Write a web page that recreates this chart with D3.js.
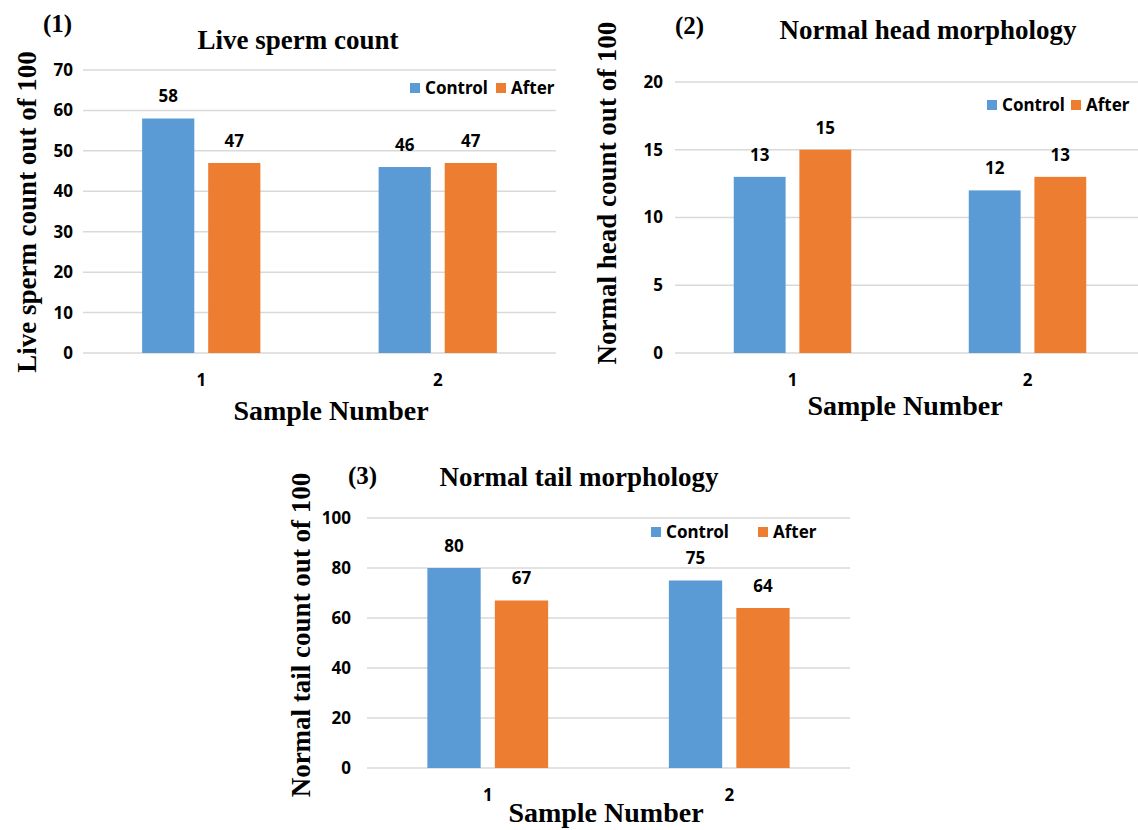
<!DOCTYPE html>
<html>
<head>
<meta charset="utf-8">
<script src="https://cdn.jsdelivr.net/npm/d3@7"></script>
<style>
  body { margin: 0; background: #fff; }
  svg { display: block; }
  .serif { font-family: "Liberation Serif", "Times New Roman", serif; font-weight: bold; fill: #000; }
  .sans { font-family: "Noto Sans", "Open Sans", sans-serif; font-weight: bold; fill: #000; }
</style>
</head>
<body>
<script>
const width = 1138
const height = 830

// data
const categories = ['1', '2']
const series = ['Control', 'After']
const colors = ['#5b9bd5', '#ed7d31']

const liveControl = [58, 46]
const liveAfter = [47, 47]
const headControl = [13, 12]
const headAfter = [15, 13]
const tailControl = [80, 75]
const tailAfter = [67, 64]

const liveTicks = [0, 10, 20, 30, 40, 50, 60, 70]
const headTicks = [0, 5, 10, 15, 20]
const tailTicks = [0, 20, 40, 60, 80, 100]

// layout of each panel (pixels only)
const panels = [
  {
    tag: '(1)', title: 'Live sperm count', yTitle: 'Live sperm count out of 100',
    values: [liveControl, liveAfter], ticks: liveTicks,
    left: 83, right: 556, gridEnd: 556, top: 70, bottom: 353,
    tickX: 73, catY: 380,
    titleX: 298, titleY: 40, tagX: 43, tagY: 23,
    yTitleX: 27, yTitleY: 212, xTitleX: 331, xTitleY: 410,
    legendX: [410, 496], legendY: 88
  },
  {
    tag: '(2)', title: 'Normal head morphology', yTitle: 'Normal head count out of 100',
    values: [headControl, headAfter], ticks: headTicks,
    left: 675, right: 1145, gridEnd: 1138, top: 82, bottom: 353,
    tickX: 663, catY: 380,
    titleX: 928, titleY: 30, tagX: 675, tagY: 25,
    yTitleX: 607, yTitleY: 193, xTitleX: 905, xTitleY: 405,
    legendX: [987, 1071], legendY: 105
  },
  {
    tag: '(3)', title: 'Normal tail morphology', yTitle: 'Normal tail count out of 100',
    values: [tailControl, tailAfter], ticks: tailTicks,
    left: 367, right: 850, gridEnd: 850, top: 518, bottom: 768,
    tickX: 351, catY: 795,
    titleX: 579, titleY: 477, tagX: 348, tagY: 475,
    yTitleX: 301, yTitleY: 635, xTitleX: 606, xTitleY: 812,
    legendX: [651, 758], legendY: 532
  }
]

const svg = d3.select('body').append('svg')
    .attr('width', width)
    .attr('height', height)

function drawPanel(p) {
  const g = svg.append('g')

  const x = d3.scaleBand()
      .domain(categories)
      .range([p.left, p.right])

  const groupW = x.bandwidth() * 0.5
  const x1 = d3.scaleBand()
      .domain(series)
      .range([-groupW / 2, groupW / 2])
      .paddingInner(0.21)

  const y = d3.scaleLinear()
      .domain([0, d3.max(p.ticks)])
      .range([p.bottom, p.top])

  // gridlines
  g.selectAll('.grid')
    .data(p.ticks)
    .join('line')
      .attr('x1', p.left)
      .attr('x2', p.gridEnd)
      .attr('y1', d => y(d))
      .attr('y2', d => y(d))
      .style('stroke', '#d9d9d9')
      .style('stroke-width', 1.5)

  // y tick labels
  g.selectAll('.ytick')
    .data(p.ticks)
    .join('text')
      .attr('class', 'sans')
      .attr('x', p.tickX)
      .attr('y', d => y(d))
      .attr('dy', '0.35em')
      .attr('text-anchor', 'end')
      .style('font-size', '17px')
      .text(d => d)

  // category labels
  g.selectAll('.xtick')
    .data(categories)
    .join('text')
      .attr('class', 'sans')
      .attr('x', d => x(d) + x.bandwidth() / 2)
      .attr('y', p.catY)
      .attr('dy', '0.35em')
      .attr('text-anchor', 'middle')
      .style('font-size', '17px')
      .text(d => d)

  // bars
  const rows = []
  categories.forEach((c, i) => {
    series.forEach((s, j) => {
      rows.push({cat: c, ser: s, idx: j, val: p.values[j][i]})
    })
  })

  const cx = d => x(d.cat) + x.bandwidth() / 2 + x1(d.ser)

  g.selectAll('.bar')
    .data(rows)
    .join('rect')
      .attr('x', cx)
      .attr('y', d => y(d.val))
      .attr('width', x1.bandwidth())
      .attr('height', d => y(0) - y(d.val))
      .style('fill', d => colors[d.idx])

  // value labels
  g.selectAll('.val')
    .data(rows)
    .join('text')
      .attr('class', 'sans')
      .attr('x', d => cx(d) + x1.bandwidth() / 2)
      .attr('y', d => y(d.val) - 22)
      .attr('dy', '0.35em')
      .attr('text-anchor', 'middle')
      .style('font-size', '17px')
      .text(d => d.val)

  // legend
  series.forEach((s, j) => {
    g.append('rect')
      .attr('x', p.legendX[j])
      .attr('y', p.legendY - 5)
      .attr('width', 10)
      .attr('height', 10)
      .style('fill', colors[j])
    g.append('text')
      .attr('class', 'sans')
      .attr('x', p.legendX[j] + 15)
      .attr('y', p.legendY)
      .attr('dy', '0.35em')
      .style('font-size', '17px')
      .text(s)
  })

  // titles
  g.append('text')
    .attr('class', 'serif')
    .attr('x', p.titleX)
    .attr('y', p.titleY)
    .attr('dy', '0.35em')
    .attr('text-anchor', 'middle')
    .style('font-size', '27px')
    .text(p.title)

  g.append('text')
    .attr('class', 'serif')
    .attr('x', p.tagX)
    .attr('y', p.tagY)
    .attr('dy', '0.35em')
    .style('font-size', '25px')
    .text(p.tag)

  g.append('text')
    .attr('class', 'serif')
    .attr('transform', `translate(${p.yTitleX},${p.yTitleY}) rotate(-90)`)
    .attr('dy', '0.35em')
    .attr('text-anchor', 'middle')
    .style('font-size', '27px')
    .text(p.yTitle)

  g.append('text')
    .attr('class', 'serif')
    .attr('x', p.xTitleX)
    .attr('y', p.xTitleY)
    .attr('dy', '0.35em')
    .attr('text-anchor', 'middle')
    .style('font-size', '28px')
    .text('Sample Number')
}

panels.forEach(drawPanel)
</script>
</body>
</html>
